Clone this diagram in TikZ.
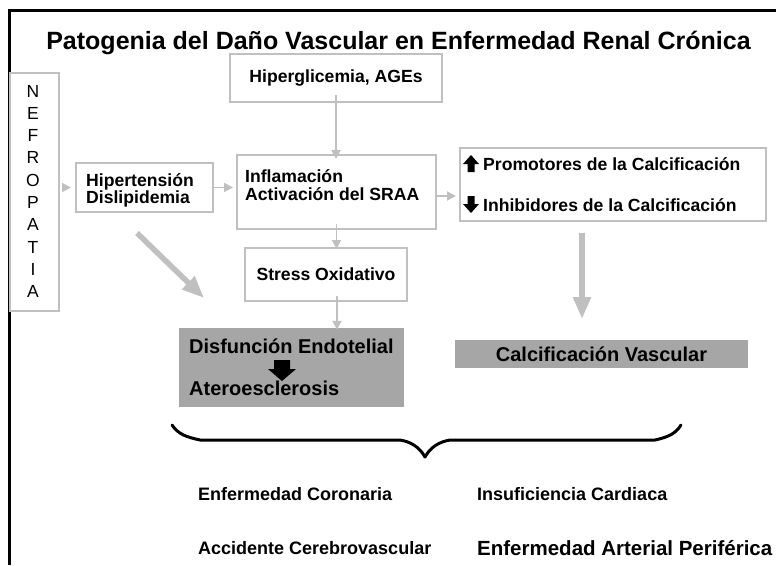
\documentclass[tikz,border=0pt]{standalone}
\usepackage{fontspec}
\setmainfont{Liberation Sans}
\usetikzlibrary{arrows.meta}
\definecolor{boxgray}{RGB}{192,192,192}
\definecolor{fillgray}{RGB}{166,166,166}
\definecolor{arrgray}{RGB}{192,192,192}
\begin{document}
\begin{tikzpicture}[x=1pt,y=-1pt,
  box/.style={draw=boxgray, line width=2pt, inner sep=0pt},
  gbox/.style={fill=fillgray, inner sep=0pt},
  thinarrow/.style={draw=arrgray, line width=1.8pt, -{Triangle[length=9pt,width=9pt]}},
  bigarrow/.style={draw=arrgray, line width=5.5pt, -{Triangle[length=22pt,width=17pt]}},
  lbl/.style={font=\fontsize{17.6}{20}\selectfont\bfseries, inner sep=0pt},
  biglbl/.style={font=\fontsize{20}{22}\selectfont\bfseries, inner sep=0pt},
  botlbl/.style={font=\fontsize{18}{20}\selectfont\bfseries, inner sep=0pt, anchor=base west},
  letter/.style={font=\fontsize{17.5}{19}\selectfont, inner sep=0pt, anchor=base},
  blockarrow/.style={fill=black}
]
\useasboundingbox (0,0) rectangle (776,565);
% frame
\draw[line width=3pt] (9,565) -- (9,10) -- (776,10);
% title
\node[font=\fontsize{25}{28}\selectfont\bfseries, inner sep=0pt, anchor=base] (title) at (398.5,49) {Patogenia del Daño Vascular en Enfermedad Renal Crónica};
% boxes
\node[box, minimum width=212pt, minimum height=48pt, lbl] (hip) at (336,78) {Hiperglicemia, AGEs};
\node[box, minimum width=49pt, minimum height=238pt] (nef) at (34.5,192) {};
\foreach \l [count=\i from 0] in {N,E,F,R,O,P,A,T,I,A}
  \node[letter] (nl\i) at (33,{97+22.3*\i}) {\l};
\node[box, minimum width=137pt, minimum height=49pt] (hyp) at (144.5,187.5) {};
\node[lbl, anchor=base west] (hyptxt) at (86,186) {Hipertensión};
\node[lbl, anchor=base west] (dystxt) at (86,203) {Dislipidemia};
\node[box, minimum width=199pt, minimum height=74pt] (infl) at (336.5,192) {};
\node[lbl, anchor=base west] (infltxt) at (245,182) {Inflamación};
\node[lbl, anchor=base west] (acttxt) at (245,200) {Activación del SRAA};
\node[box, minimum width=306pt, minimum height=73pt] (prom) at (613,184.5) {};
\node[lbl, anchor=base west] (promtxt) at (483,170) {Promotores de la Calcificación};
\node[lbl, anchor=base west] (inhtxt) at (483,211) {Inhibidores de la Calcificación};
\node[box, minimum width=162pt, minimum height=53pt, lbl] (stress) at (326,274.5) {Stress Oxidativo};
\node[gbox, minimum width=225pt, minimum height=79pt] (disf) at (291.5,367.5) {};
\node[biglbl, anchor=base west] (disftxt) at (189,353) {Disfunción Endotelial};
\node[biglbl, anchor=base west] (atetxt) at (189,395) {Ateroesclerosis};
\node[gbox, minimum width=293pt, minimum height=28pt, biglbl] (calc) at (601.5,354) {Calcificación Vascular};
% block arrows
\fill[blockarrow] (471,155) -- (479,164) -- (474.5,164) -- (474.5,172) -- (467.5,172) -- (467.5,164) -- (463,164) -- cycle;
\fill[blockarrow] (471,213) -- (479,204) -- (474.5,204) -- (474.5,196) -- (467.5,196) -- (467.5,204) -- (463,204) -- cycle;
\fill[blockarrow] (282,381) -- (296,369) -- (290,369) -- (290,360) -- (274,360) -- (274,369) -- (268,369) -- cycle;
% thin arrows
\draw[thinarrow] ([xshift=2pt]nef.east |- hyp.west) -- ([xshift=-4pt]hyp.west);
\draw[thinarrow] (hyp.east) -- ([xshift=-3pt]hyp.east -| infl.west);
\draw[thinarrow] ([yshift=-4pt]infl.east) -- ([xshift=-3pt,yshift=-4pt]infl.east -| prom.west);
\draw[thinarrow] ([yshift=8pt]hip.south) -- ([yshift=-5pt]hip.south |- infl.north);
\draw[thinarrow] ([yshift=6pt]infl.south) -- ([yshift=-2pt]infl.south |- stress.north);
\draw[thinarrow] ([xshift=11pt,yshift=6pt]stress.south) -- ([xshift=11pt,yshift=-2pt]stress.south |- disf.north);
% big arrows
\coordinate (dstart) at (137,233);
\coordinate (dend) at (204,298);
\draw[bigarrow] (dstart) -- (dend);
\coordinate (vstart) at (582,233);
\coordinate (vend) at (582,319);
\draw[bigarrow] (vstart) -- (vend);
% brace
\draw[line width=3pt, line cap=round, line join=round] (172,425) .. controls (178,434) and (186,437) .. (200,440) -- (400,440) .. controls (412,442) and (420,448) .. (425,457) .. controls (430,448) and (438,442) .. (450,440) -- (655,440) .. controls (669,437) and (676,433) .. (681,425);
% bottom texts
\node[botlbl] (cor) at (198,500) {Enfermedad Coronaria};
\node[botlbl] (insu) at (477,500) {Insuficiencia Cardiaca};
\node[botlbl] (acc) at (198,554) {Accidente Cerebrovascular};
\node[botlbl, font=\fontsize{20.5}{22}\selectfont\bfseries] (per) at (477,555) {Enfermedad Arterial Periférica};
\end{tikzpicture}
\end{document}
